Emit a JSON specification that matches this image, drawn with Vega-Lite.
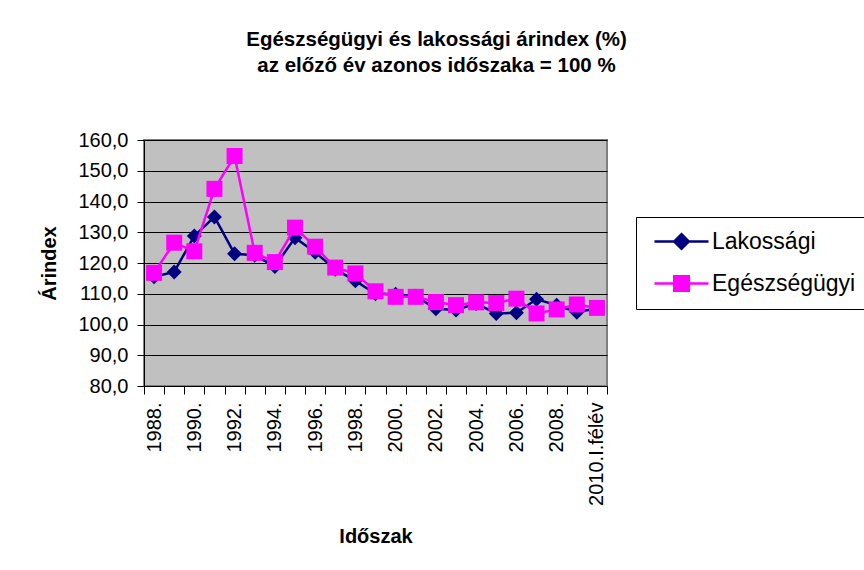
{
  "$schema": "https://vega.github.io/schema/vega-lite/v6.json",
  "width": 463,
  "height": 246,
  "autosize": {"type": "none"},
  "padding": {"left": 144, "top": 140, "right": 257, "bottom": 184},
  "background": "white",
  "title": {
    "text": ["Egészségügyi és lakossági árindex (%)", "az előző év azonos időszaka = 100 %"],
    "anchor": "middle",
    "frame": "group",
    "dx": 61,
    "offset": 54,
    "font": "Liberation Sans",
    "fontSize": 20.5,
    "fontWeight": "bold",
    "color": "black",
    "lineHeight": 25.5
  },
  "data": {
    "values": [
      {"period": "1988.", "series": "Lakossági", "value": 115.5},
      {"period": "1989.", "series": "Lakossági", "value": 117.1},
      {"period": "1990.", "series": "Lakossági", "value": 128.8},
      {"period": "1991.", "series": "Lakossági", "value": 135.0},
      {"period": "1992.", "series": "Lakossági", "value": 123.0},
      {"period": "1993.", "series": "Lakossági", "value": 122.5},
      {"period": "1994.", "series": "Lakossági", "value": 118.9},
      {"period": "1995.", "series": "Lakossági", "value": 128.2},
      {"period": "1996.", "series": "Lakossági", "value": 123.5},
      {"period": "1997.", "series": "Lakossági", "value": 118.0},
      {"period": "1998.", "series": "Lakossági", "value": 114.2},
      {"period": "1999.", "series": "Lakossági", "value": 110.0},
      {"period": "2000.", "series": "Lakossági", "value": 109.8},
      {"period": "2001.", "series": "Lakossági", "value": 109.2},
      {"period": "2002.", "series": "Lakossági", "value": 105.1},
      {"period": "2003.", "series": "Lakossági", "value": 104.7},
      {"period": "2004.", "series": "Lakossági", "value": 106.8},
      {"period": "2005.", "series": "Lakossági", "value": 103.6},
      {"period": "2006.", "series": "Lakossági", "value": 103.8},
      {"period": "2007.", "series": "Lakossági", "value": 108.2},
      {"period": "2008.", "series": "Lakossági", "value": 106.3},
      {"period": "2009.", "series": "Lakossági", "value": 104.0},
      {"period": "2010.I.félév", "series": "Lakossági", "value": 105.3},
      {"period": "1988.", "series": "Egészségügyi", "value": 116.8},
      {"period": "1989.", "series": "Egészségügyi", "value": 126.6},
      {"period": "1990.", "series": "Egészségügyi", "value": 123.8},
      {"period": "1991.", "series": "Egészségügyi", "value": 144.1},
      {"period": "1992.", "series": "Egészségügyi", "value": 154.8},
      {"period": "1993.", "series": "Egészségügyi", "value": 123.3},
      {"period": "1994.", "series": "Egészségügyi", "value": 120.3},
      {"period": "1995.", "series": "Egészségügyi", "value": 131.5},
      {"period": "1996.", "series": "Egészségügyi", "value": 125.3},
      {"period": "1997.", "series": "Egészségügyi", "value": 118.5},
      {"period": "1998.", "series": "Egészségügyi", "value": 116.6},
      {"period": "1999.", "series": "Egészségügyi", "value": 110.8},
      {"period": "2000.", "series": "Egészségügyi", "value": 109.0},
      {"period": "2001.", "series": "Egészségügyi", "value": 109.0},
      {"period": "2002.", "series": "Egészségügyi", "value": 107.3},
      {"period": "2003.", "series": "Egészségügyi", "value": 106.3},
      {"period": "2004.", "series": "Egészségügyi", "value": 107.2},
      {"period": "2005.", "series": "Egészségügyi", "value": 107.0},
      {"period": "2006.", "series": "Egészségügyi", "value": 108.4},
      {"period": "2007.", "series": "Egészségügyi", "value": 103.6},
      {"period": "2008.", "series": "Egészségügyi", "value": 104.9},
      {"period": "2009.", "series": "Egészségügyi", "value": 106.5},
      {"period": "2010.I.félév", "series": "Egészségügyi", "value": 105.4}
    ]
  },
  "encoding": {
    "x": {
      "field": "period",
      "type": "ordinal",
      "sort": null,
      "scale": {"type": "band", "paddingInner": 0, "paddingOuter": 0},
      "axis": {
        "title": "Időszak",
        "titleFont": "Liberation Sans",
        "titleFontSize": 20,
        "titleFontWeight": "bold",
        "titleColor": "black",
        "titlePadding": 21,
        "labelFont": "Liberation Sans",
        "labelFontSize": 20,
        "labelColor": "black",
        "labelAngle": -90,
        "labelAlign": "right",
        "labelBaseline": "middle",
        "labelPadding": 8,
        "labelOverlap": false,
        "labelExpr": "indexof(['1988.','1990.','1992.','1994.','1996.','1998.','2000.','2002.','2004.','2006.','2008.','2010.I.félév'], datum.value) >= 0 ? datum.value : ''",
        "tickBand": "extent",
        "tickSize": 8,
        "tickColor": "black",
        "tickWidth": 1,
        "domainColor": "black",
        "domainWidth": 1,
        "grid": false
      }
    },
    "y": {
      "field": "value",
      "type": "quantitative",
      "scale": {"domain": [80, 160], "nice": false, "zero": false},
      "axis": {
        "title": "Árindex",
        "titleFont": "Liberation Sans",
        "titleFontSize": 20,
        "titleFontWeight": "bold",
        "titleColor": "black",
        "titlePadding": 18,
        "labelFont": "Liberation Sans",
        "labelFontSize": 20,
        "labelColor": "black",
        "labelPadding": 9,
        "values": [80, 90, 100, 110, 120, 130, 140, 150, 160],
        "labelExpr": "replace(format(datum.value, '.1f'), '.', ',')",
        "tickSize": 7,
        "tickColor": "black",
        "domainColor": "black",
        "domainWidth": 1,
        "grid": true,
        "gridColor": "black",
        "gridWidth": 1
      }
    }
  },
  "layer": [
    {
      "transform": [{"filter": "datum.series === 'Lakossági'"}],
      "mark": {"type": "line", "strokeWidth": 2.5, "color": "#000080"},
      "encoding": {}
    },
    {
      "transform": [{"filter": "datum.series === 'Lakossági'"}],
      "mark": {"type": "point", "filled": true, "opacity": 1, "size": 225, "shape": "diamond", "color": "#000080"},
      "encoding": {}
    },
    {
      "transform": [{"filter": "datum.series === 'Egészségügyi'"}],
      "mark": {"type": "line", "strokeWidth": 2.5, "color": "#FF00FF"},
      "encoding": {}
    },
    {
      "transform": [{"filter": "datum.series === 'Egészségügyi'"}],
      "mark": {"type": "point", "filled": true, "opacity": 1, "size": 256, "shape": "square", "color": "#FF00FF"},
      "encoding": {}
    },
    {
      "transform": [{"filter": "false"}],
      "mark": {"type": "point", "filled": false, "opacity": 1, "size": 213, "strokeWidth": 2.5},
      "encoding": {
        "color": {"field": "series", "type": "nominal", "scale": {"domain": ["Lakossági", "Egészségügyi"], "range": ["#000080", "#FF00FF"]}, "legend": {"title": null}},
        "shape": {"field": "series", "type": "nominal", "scale": {"domain": ["Lakossági", "Egészségügyi"], "range": ["M-3.7,0H3.7M0,-1L1,0L0,1L-1,0ZM0,-0.75L0.75,0L0,0.75L-0.75,0ZM0,-0.5L0.5,0L0,0.5L-0.5,0ZM0,-0.25L0.25,0L0,0.25L-0.25,0Z", "M-3.7,0H3.7M-1,-1H1V1H-1ZM-0.75,-0.75H0.75V0.75H-0.75ZM-0.5,-0.5H0.5V0.5H-0.5ZM-0.25,-0.25H0.25V0.25H-0.25Z"]}, "legend": {"title": null}}
      }
    }
  ],
  "config": {
    "view": {"fill": "#C0C0C0", "stroke": "#808080", "strokeWidth": 2},
    "legend": {
      "orient": "none",
      "legendX": 492,
      "legendY": 77,
      "strokeColor": "black",
      "strokeWidth": 1,
      "fillColor": "white",
      "padding": 13,
      "rowPadding": 17,
      "symbolSize": 213,
      "symbolStrokeWidth": 2.5,
      "symbolOffset": 21,
      "labelOffset": 19,
      "labelFont": "Liberation Sans",
      "labelFontSize": 23,
      "labelColor": "black",
      "labelLimit": 400
    }
  }
}
